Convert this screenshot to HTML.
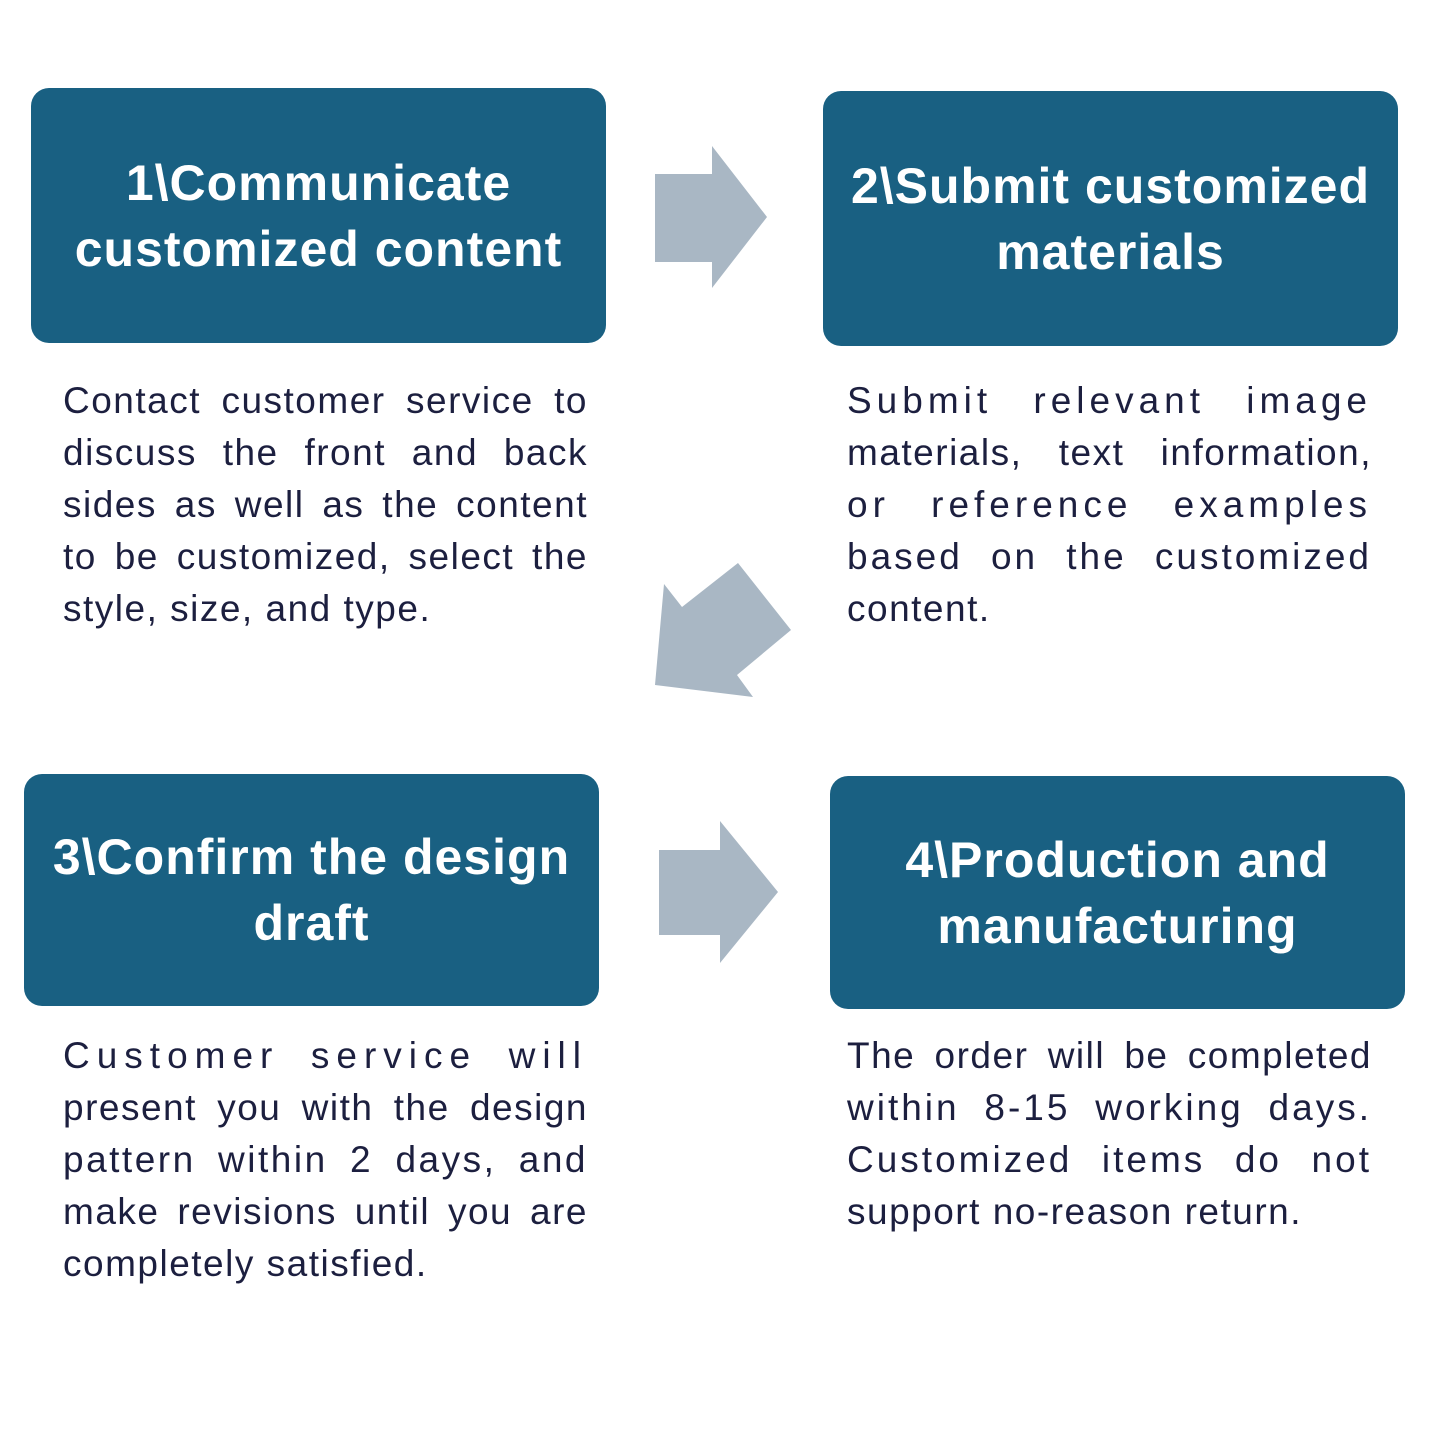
<!DOCTYPE html>
<html><head><meta charset="utf-8"><style>
body{margin:0;width:1445px;height:1445px;background:#fff;position:relative;overflow:hidden;font-family:"Liberation Sans","Noto Sans CJK SC",sans-serif}
.box{position:absolute;background:#196082;border-radius:18px;color:#fff;font-weight:bold;font-size:50px;letter-spacing:1px;line-height:66px;text-align:center;display:flex;align-items:center;justify-content:center}
.txt{position:absolute;width:525px;color:#1c1f3f;font-size:37px;line-height:52px;letter-spacing:1.5px}
.txt div{text-align:justify;text-align-last:justify;white-space:nowrap}
.txt div.l{text-align-last:left}
</style></head><body>
<div class="box" style="left:31px;top:88px;width:575px;height:255px">1\Communicate<br>customized content</div>
<div class="box" style="left:823px;top:91px;width:575px;height:255px">2\Submit customized<br>materials</div>
<div class="box" style="left:24px;top:774px;width:575px;height:232px">3\Confirm the design<br>draft</div>
<div class="box" style="left:830px;top:776px;width:575px;height:233px">4\Production and<br>manufacturing</div>

<svg style="position:absolute;left:0;top:0" width="1445" height="1445">
<g fill="#a9b7c4">
<polygon points="655,174 712,174 712,146 767,217 712,288 712,262 655,262"/>
<polygon points="659,850 720,850 720,821 778,892 720,963 720,935 659,935"/>
<polygon points="655,685 664,584 682,607 738,563 791,630 737,675 753,697"/>
</g></svg>

<div class="txt" style="left:63px;top:375px">
<div>Contact customer service to</div>
<div>discuss the front and back</div>
<div>sides as well as the content</div>
<div>to be customized, select the</div>
<div class="l">style, size, and type.</div>
</div>
<div class="txt" style="left:847px;top:375px">
<div style="letter-spacing:5px">Submit relevant image</div>
<div>materials, text information,</div>
<div style="letter-spacing:5px">or reference examples</div>
<div style="letter-spacing:3px">based on the customized</div>
<div class="l">content.</div>
</div>
<div class="txt" style="left:63px;top:1030px">
<div style="letter-spacing:7px">Customer service will</div>
<div>present you with the design</div>
<div style="letter-spacing:2.5px">pattern within 2 days, and</div>
<div>make revisions until you are</div>
<div class="l">completely satisfied.</div>
</div>
<div class="txt" style="left:847px;top:1030px">
<div>The order will be completed</div>
<div style="letter-spacing:3px">within 8-15 working days.</div>
<div style="letter-spacing:3px">Customized items do not</div>
<div class="l">support no-reason return.</div>
</div>
</body></html>
